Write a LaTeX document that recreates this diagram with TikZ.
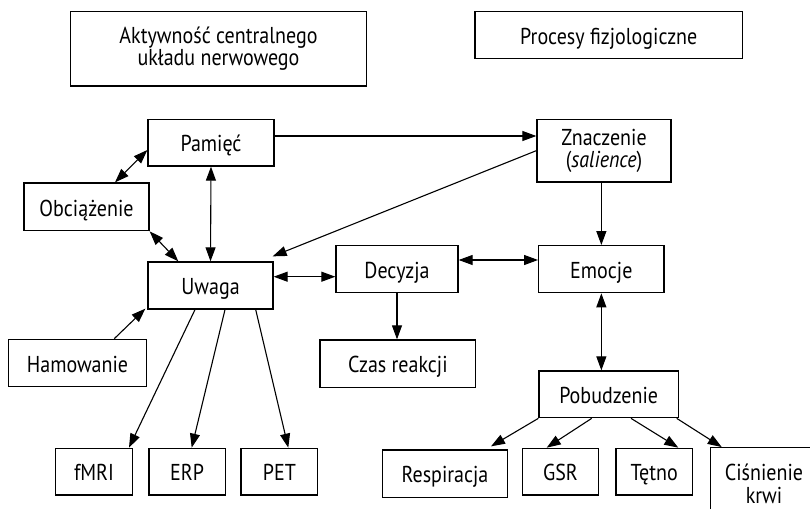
\documentclass[tikz,border=0pt]{standalone}
\usepackage{fontspec}
\setmainfont[FakeStretch=0.87]{PT Sans}
\usetikzlibrary{arrows.meta,calc}
\begin{document}
\begin{tikzpicture}[x=1pt,y=-1pt,
  box/.style={draw,line width=1.3pt,inner sep=0pt,align=center,font=\fontsize{23}{22.5}\selectfont},
  one/.style={box,text height=23pt,text depth=4.5pt},
  tip/.tip={Triangle[length=14pt,width=10pt]},
  arr/.style={line width=1.1pt,-tip},
  darr/.style={line width=1.1pt,tip-tip}]
\useasboundingbox (0,0) rectangle (810,508);
\clip (0,0) rectangle (810,508);
% boxes
\node[box,minimum width=296pt,minimum height=74.5pt] (akt) at (218.5,48.75) {Aktywność centralnego\\układu nerwowego};
\node[one,minimum width=267.5pt,minimum height=47pt] (proc) at (608.75,35) {Procesy fizjologiczne};
\node[one,minimum width=126pt,minimum height=46.7pt] (pam) at (211,142.65) {Pamięć};
\node[one,minimum width=125pt,minimum height=47.7pt] (obc) at (86.5,206.85) {Obciążenie};
\node[one,minimum width=125pt,minimum height=47pt] (uw) at (210.5,285.5) {Uwaga};
\node[one,minimum width=122pt,minimum height=47pt] (dec) at (397,269.2) {Decyzja};
\node[box,minimum width=134pt,minimum height=62.7pt] (zn) at (604,150.65) {Znaczenie\\(\textit{salience})};
\node[one,minimum width=125.3pt,minimum height=47pt] (emo) at (601.35,269.2) {Emocje};
\node[one,minimum width=138.4pt,minimum height=47.4pt] (ham) at (77.5,363) {Hamowanie};
\node[one,minimum width=76.6pt,minimum height=46.7pt] (fmri) at (94,471.65) {fMRI};
\node[one,minimum width=76.3pt,minimum height=46.7pt] (erp) at (187.15,471.65) {ERP};
\node[one,minimum width=76.7pt,minimum height=46.7pt] (pet) at (279.35,471.65) {PET};
\node[one,minimum width=155.7pt,minimum height=47.3pt] (czas) at (397.85,363.65) {Czas reakcji};
\node[one,minimum width=139.3pt,minimum height=46.7pt] (pob) at (608.65,394.35) {Pobudzenie};
\node[one,minimum width=124.6pt,minimum height=47.3pt] (resp) at (445,473.65) {Respiracja};
\node[one,minimum width=76.4pt,minimum height=46.7pt] (gsr) at (560.5,471.65) {GSR};
\node[one,minimum width=76.3pt,minimum height=46.7pt] (tet) at (654.15,471.65) {Tętno};
\node[box,minimum width=106.6pt,minimum height=72.3pt] (cis) at (764,483.85) {Ciśnienie\\krwi};
% connectors
\draw[arr] (pam.east |- 0,136) -- (zn.west |- 0,136);
\draw[arr] (zn.west) -- ($(uw.north east)+(-1,-5)$);
\draw[arr] (zn.south -| emo.north) -- (emo.north);
\draw[darr] (dec.east |- 0,260) -- (emo.west |- 0,260);
\draw[darr] (uw.east |- 0,276.7) -- (dec.west |- 0,276.7);
\draw[darr] (pam.south) -- (uw.north);
\draw[darr] (115,0 |- obc.north) -- (pam.west |- 0,150);
\draw[darr] (obc.south east) -- (178.3,0 |- uw.north);
\draw[arr] (114.3,0 |- ham.north) -- ($(uw.south west)+(-2,-1)$);
\draw[arr] (195,0 |- uw.south) -- (129,0 |- fmri.north);
\draw[arr] (225,0 |- uw.south) -- (191.7,0 |- erp.north);
\draw[arr] (255.7,0 |- uw.south) -- (288.3,0 |- pet.north);
\draw[arr] (dec.south) -- (dec.south |- czas.north);
\draw[darr] (emo.south) -- (emo.south |- pob.north);
\draw[arr] (pob.south west) -- ($(491,0 |- resp.north)+(0,-3)$);
\draw[arr] (591.7,0 |- pob.south) -- (546.7,0 |- gsr.north);
\draw[arr] (631,0 |- pob.south) -- (678.3,0 |- tet.north);
\draw[arr] (676.7,0 |- pob.south) -- (721.7,0 |- cis.north);
\end{tikzpicture}
\end{document}
